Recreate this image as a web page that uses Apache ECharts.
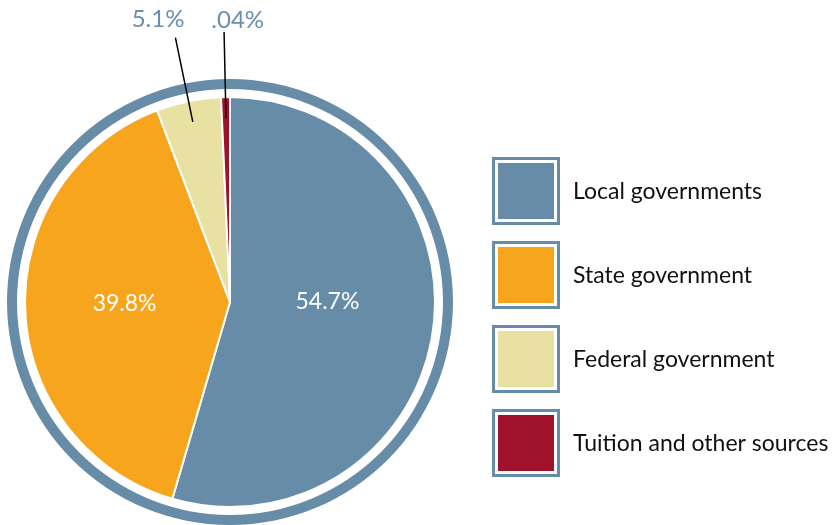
<!DOCTYPE html>
<html><head><meta charset='utf-8'>
<script src='https://cdn.jsdelivr.net/npm/echarts@6/dist/echarts.min.js'></script>
<style>html,body{margin:0;padding:0;background:#fff}#main{width:837px;height:525px}</style>
</head><body><div id='main'></div>
<script>
// funding sources, share of total
var categories = ['Local governments', 'State government', 'Federal government', 'Tuition and other sources'];
var shares = [54.7, 39.8, 5.1, 0.7];
var shareLabels = ['54.7%', '39.8%', '5.1%', '.04%'];
var colors = ['#678ca8', '#f7a51d', '#e9e1a2', '#a0112b'];

var font = 'Lato';
var center = [230, 302];

// nudges for the inside labels
var insideShift = [[-7, -15], [0, -3], [0, 0], [0, 0]];
// outside label tweaks (small slices only): sideways gap and line height that lifts the text
var outsideDist = [0, 0, -9, -40];
var outsideLift = [0, 0, 36, 24];

var chart = echarts.init(document.getElementById('main'));

// legend boxes, drawn by hand so they get the framed look
var legendItems = [];
categories.forEach(function (c, i) {
  var top = 157 + i * 84;
  legendItems.push({ type: 'rect', shape: { x: 492, y: top, width: 68, height: 68 }, style: { fill: colors[0] }, silent: true });
  legendItems.push({ type: 'rect', shape: { x: 495, y: top + 3, width: 62, height: 62 }, style: { fill: '#fff' }, silent: true });
  legendItems.push({ type: 'rect', shape: { x: 498, y: top + 6, width: 56, height: 56 }, style: { fill: colors[i] }, silent: true });
  legendItems.push({ type: 'text', x: 573, y: top + 35, style: { text: c, fill: '#111', font: '23px ' + font, verticalAlign: 'middle' }, silent: true });
});

chart.setOption({
  animation: false,
  graphic: legendItems,
  series: [
    {
      // outer ring
      type: 'pie', center: center, radius: [213, 223], silent: true,
      label: { show: false }, labelLine: { show: false },
      data: [{ value: 1, itemStyle: { color: colors[0] } }]
    },
    {
      type: 'pie', center: center, radius: [0, 205], startAngle: 90, clockwise: true, silent: true,
      itemStyle: { borderColor: '#fff', borderWidth: 2 },
      label: {
        show: true, position: 'inside', color: '#fff', fontSize: 23, fontFamily: font,
        formatter: function (p) { return shareLabels[p.dataIndex]; }
      },
      labelLine: { show: false },
      labelLayout: function (p) {
        return { dx: insideShift[p.dataIndex][0], dy: insideShift[p.dataIndex][1] };
      },
      data: categories.map(function (c, i) {
        return { name: c, value: shares[i], itemStyle: { color: colors[i] }, label: { show: i < 2 } };
      })
    },
    {
      // transparent copy used only for the leader lines of the small slices
      type: 'pie', z: 5, center: center, radius: [0, 184], startAngle: 90, clockwise: true, silent: true,
      avoidLabelOverlap: false,
      itemStyle: { color: 'rgba(0,0,0,0)' },
      label: {
        show: true, position: 'outside', color: '#6a8fab', fontSize: 24, fontFamily: font,
        // empty second line pushes the text above the end of the leader line
        formatter: function (p) { return shareLabels[p.dataIndex] + '\n '; }
      },
      labelLine: { show: true, showAbove: true, length: 86, length2: 0, lineStyle: { color: '#000', width: 1.5 } },
      data: categories.map(function (c, i) {
        var big = i < 2;
        return {
          name: c, value: shares[i],
          label: { show: !big, distanceToLabelLine: outsideDist[i], lineHeight: outsideLift[i] || 24 },
          labelLine: { show: !big }
        };
      })
    }
  ]
});
</script>
</body></html>
